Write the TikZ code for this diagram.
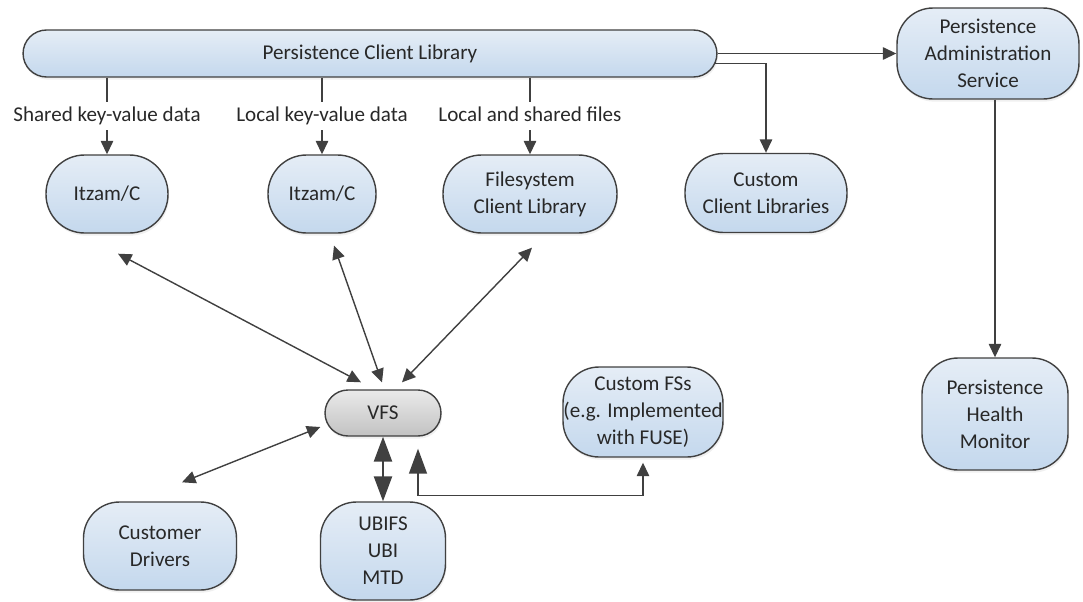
\documentclass[tikz,border=0pt]{standalone}
\usepackage{fontspec}
\setmainfont{Carlito}
\usetikzlibrary{arrows.meta, calc, shadows}
\definecolor{boxline}{RGB}{64,64,64}
\definecolor{boxtop}{RGB}{229,237,246}
\definecolor{boxbot}{RGB}{196,216,237}
\definecolor{vfstop}{RGB}{234,234,234}
\definecolor{vfsbot}{RGB}{194,194,194}
\definecolor{textgray}{RGB}{40,40,40}
\tikzset{
	Small/.tip={Triangle[length=0.27cm, width=0.25cm]},
	Big/.tip={Triangle[length=0.5cm, width=0.36cm]},
	box/.style={draw=boxline, line width=0.8pt, top color=boxtop, bottom color=boxbot, rounded corners=0.72cm, align=center, inner sep=0pt, text=textgray,
		drop shadow={opacity=0.12, shadow xshift=0.6pt, shadow yshift=-1.5pt}},
	pill/.style={box, rounded corners=0.77cm},
	conn/.style={draw=boxline, line width=0.8pt},
	lbl/.style={text=textgray, inner xsep=0pt, inner ysep=2pt, text height=9pt, text depth=3pt}
}

\begin{document}
\begin{tikzpicture}[x=0.02cm, y=-0.02cm, font=\fontsize{12}{15.4}\selectfont, >=Small]
		\useasboundingbox (0, 0) rectangle (1083, 602);
		% client side
		\node[box, rounded corners=0.47cm, minimum width=13.88cm, minimum height=0.94cm](bar) at (370, 53.5){Persistence Client Library};
		\node[box, minimum width=3.64cm, minimum height=1.82cm](pas) at (988, 53.5){Persistence\\Administration\\Service};
		\node[box, minimum width=2.92cm, minimum height=2.24cm](phm) at (995, 414){Persistence\\Health\\Monitor};
		\node[lbl](lblshared) at (107, 116){Shared key-value data};
		\node[lbl](lbllocal) at (322, 116){Local key-value data};
		\node[lbl](lblfiles) at (530, 116){Local and shared files};
		\node[pill, minimum width=2.44cm, minimum height=1.56cm](itz1) at (107, 194){Itzam/C};
		\node[pill, minimum width=2.16cm, minimum height=1.56cm](itz2) at (322, 194){Itzam/C};
		\node[pill, minimum width=3.48cm, minimum height=1.56cm](fs) at (530, 194){Filesystem\\Client Library};
		\node[pill, minimum width=3.24cm, minimum height=1.58cm](ccl) at (766, 193){Custom\\Client Libraries};
		% storage side
		\node[box, top color=vfstop, bottom color=vfsbot, rounded corners=0.46cm, minimum width=2.32cm, minimum height=0.92cm](vfs) at (383, 413){VFS};
		\node[box, minimum width=3.2cm, minimum height=1.8cm](cfs) at (643, 412){Custom FSs\\(e.g. Implemented\\with FUSE)};
		\node[box, minimum width=3.06cm, minimum height=1.76cm](cd) at (160, 546){Customer\\Drivers};
		\node[box, minimum width=2.5cm, minimum height=1.96cm](ubi) at (383, 551){UBIFS\\UBI\\MTD};
		% connectors
		\draw[conn](bar.south -| lblshared.north)--(lblshared.north);
		\draw[conn](bar.south -| lbllocal.north)--(lbllocal.north);
		\draw[conn](bar.south -| lblfiles.north)--(lblfiles.north);
		\draw[conn, ->](lblshared.south)--(itz1.north);
		\draw[conn, ->](lbllocal.south)--(itz2.north);
		\draw[conn, ->](lblfiles.south)--(fs.north);
		\draw[conn, ->](bar.east)--(pas.west);
		\draw[conn, ->]($(bar.east)+(-3, 10)$) -| (ccl.north);
		\draw[conn, ->](phm.north |- pas.south)--(phm.north);
		\draw[conn, <->]($(itz1.south)+(11, 20)$)--($(vfs.north)+(-22, -7)$);
		\draw[conn, <->]($(itz2.south)+(12, 12)$)--($(vfs.north)+(-1, -7)$);
		\draw[conn, <->]($(fs.south)+(2, 14)$)--($(vfs.north)+(19, -7)$);
		\draw[conn, <->]($(cd.north)+(22, -19)$)--($(vfs.west)+(-4, 14)$);
		\draw[conn, line width=1.4pt, Big-Big](vfs.south)--(ubi.north);
		\draw[conn, Big-Small]($(vfs.south)+(35, 12)$)--++(0, 47) -| ([yshift=-0.1cm]cfs.south);
	\end{tikzpicture}
\end{document}
